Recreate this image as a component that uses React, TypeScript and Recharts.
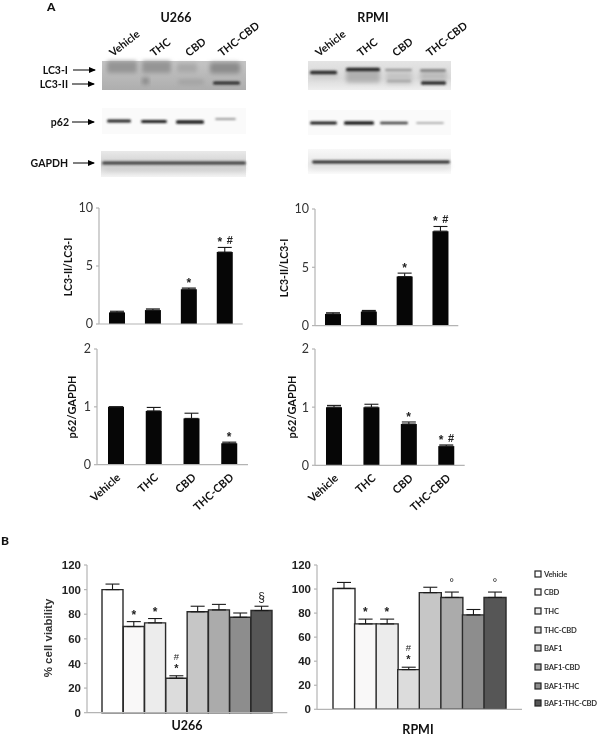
import React from 'react';
import { BarChart, Bar, XAxis, YAxis, ErrorBar, Cell, ReferenceDot } from 'recharts';

// ---------- data ----------
const westernCategories = ['Vehicle', 'THC', 'CBD', 'THC-CBD'];
const u266Lc3Values = [1.0, 1.2, 3.0, 6.2];
const u266Lc3Errors = [0.1, 0.1, 0.1, 0.4];
const u266Lc3Marks = ['', '', '*', '*~#'];
const rpmiLc3Values = [1.0, 1.2, 4.2, 8.1];
const rpmiLc3Errors = [0.1, 0.1, 0.3, 0.4];
const rpmiLc3Marks = ['', '', '*', '*~#'];
const u266P62Values = [1.0, 0.93, 0.8, 0.37];
const u266P62Errors = [0, 0.06, 0.09, 0.02];
const u266P62Marks = ['', '', '', '*'];
const rpmiP62Values = [1.0, 1.0, 0.71, 0.33];
const rpmiP62Errors = [0.03, 0.05, 0.035, 0.02];
const rpmiP62Marks = ['', '', '*', '*~#'];

const viabilityCategories = ['Vehicle', 'CBD', 'THC', 'THC-CBD', 'BAF1', 'BAF1-CBD', 'BAF1-THC', 'BAF1-THC-CBD'];
const u266Viability = [100, 70, 73, 28, 82, 83.5, 77.5, 83];
const u266ViabilityErrors = [4.5, 4, 3.5, 2, 4.5, 4.5, 3.5, 3.5];
const u266ViabilityMarks = ['', '*', '*', '#|*', '', '', '', '§'];
const rpmiViability = [100.5, 71, 71, 33, 97, 93, 78.5, 93];
const rpmiViabilityErrors = [5, 4, 4, 2, 4.5, 4.5, 4.5, 4.5];
const rpmiViabilityMarks = ['', '*', '*', '#|*', '', '°', '', '°'];
const viabilityFills = ['#ffffff', '#f9f8f8', '#ececec', '#dcdcdc', '#c6c6c6', '#ababab', '#8d8d8d', '#565656'];

const rows = (cats: string[], vals: number[], errs: number[], marks: string[]) =>
  cats.map((name, i) => ({ name, value: vals[i], err: [0, errs[i]], top: vals[i] + errs[i], mark: marks[i] }));

// ---------- fonts ----------
const CAL = 'Lato, "Open Sans", sans-serif';
const ARIAL = '"Liberation Sans", Arial, sans-serif';

// ---------- chart helper ----------
const PAD_L = 40;
const PAD_T = 15;
const PAD_R = 10;

type PanelProps = {
  x0: number; x1: number; yTop: number; yBot: number;
  data: ReturnType<typeof rows>;
  domainMax: number; ticks: number[];
  barSize?: number; xTicks?: boolean; padX?: [number, number];
  fills?: string[]; tickStyle: any; axisColor: string; errW: number; markFont: number; markLift: number;
};

function MarkShape(props: any) {
  const { cx, cy, text, font, lift } = props;
  const str = String(text);
  const common = { textAnchor: 'middle' as const, fontFamily: ARIAL, fontWeight: 700, fill: '#222' };
  if (str.includes('~')) {
    const [a, b] = str.split('~');
    return (
      <g>
        <text {...common} x={cx - 5} y={cy - lift} fontSize={font}>{a}</text>
        <text {...common} x={cx + 5} y={cy - lift - 2} fontSize={font - 1}>{b}</text>
      </g>
    );
  }
  if (str.includes('|')) {
    const [a, b] = str.split('|');
    return (
      <g>
        <text {...common} x={cx} y={cy - lift - 1} fontSize={font - 1}>{b}</text>
        <text {...common} x={cx} y={cy - lift - 13} fontSize={font - 2.5} fontWeight={400}>{a}</text>
      </g>
    );
  }
  const soft = str !== '*';
  return <text {...common} fontWeight={soft ? 400 : 700} x={cx} y={cy - lift - (soft ? 2 : 0)} fontSize={font}>{str}</text>;
}

function Panel(p: PanelProps) {
  const bottom = p.xTicks ? 60 : 10;
  const w = p.x1 - p.x0 + PAD_L + PAD_R;
  const h = p.yBot - p.yTop + PAD_T + bottom;
  return (
    <div style={{ position: 'absolute', left: p.x0 - PAD_L, top: p.yTop - PAD_T, width: w, height: h }}>
      <BarChart width={w} height={h} data={p.data} margin={{ top: PAD_T, right: PAD_R, bottom: 0, left: 0 }}
        barCategoryGap={p.fills ? 0 : undefined} barGap={0}>
        <XAxis dataKey="name" height={bottom} interval={0}
          padding={p.padX ? { left: p.padX[0], right: p.padX[1] } : undefined}
          stroke={p.axisColor} strokeWidth={1.2} tickLine={false}
          tick={p.xTicks ? { fontFamily: CAL, fontSize: 11, fontWeight: 700, fill: '#111' } : false}
          angle={p.xTicks ? -42 : 0} textAnchor={p.xTicks ? 'end' : 'middle'} tickMargin={2} />
        <YAxis width={PAD_L} domain={[0, p.domainMax]} ticks={p.ticks} interval={0}
          stroke={p.axisColor} strokeWidth={1.2} tickSize={3} tick={p.tickStyle} tickMargin={3} />
        <Bar dataKey="value" isAnimationActive={false} barSize={p.barSize}
          fill="#060606" stroke={p.fills ? '#2a2a2a' : 'none'} strokeWidth={p.fills ? 1.4 : 0}>
          {p.fills ? p.fills.map((f, i) => <Cell key={i} fill={f} />) : null}
          <ErrorBar dataKey="err" direction="y" width={p.errW} stroke="#1a1a1a" strokeWidth={1.1} isAnimationActive={false} />
        </Bar>
        {p.data.filter(d => d.mark).map(d => (
          <ReferenceDot key={d.name} x={d.name} y={d.top} r={0} ifOverflow="visible"
            shape={(s: any) => <MarkShape {...s} text={d.mark} font={p.markFont} lift={p.markLift} />} />
        ))}
      </BarChart>
    </div>
  );
}

const smallTick = { fontFamily: CAL, fontSize: 12.5, fill: '#333' };
const boldTick = { fontFamily: ARIAL, fontSize: 11.5, fontWeight: 700, fill: '#222' };

// ---------- gel picture: boxes and bands (a photograph in the reference, not chart data) ----------
type Box = [number, number, number, number, string];
type Band = [number, number, number, number, string];
const gelBoxes: Box[] = [
  [102, 61, 144, 29, 'url(#lcU)'],
  [102, 108, 144, 26, '#fafafa'],
  [101, 151, 145, 26, 'url(#gapU)'],
  [308, 61, 143, 29, 'url(#lcR)'],
  [308, 110, 143, 25, '#fafafa'],
  [308, 149, 143, 25, 'url(#gapR)'],
];
const softBands: Band[] = [
  [107, 137, 67, 12, '#959595'], [142, 171, 67, 12, '#959595'], [177, 197, 68, 9, '#a8a8a8'], [210, 240, 68, 11, '#8c8c8c'],
  [178, 204, 82, 5, '#a2a2a2'], [142, 149, 81, 7, '#8a8a8a'],
  [311, 338, 75, 7, '#cdcdcd'], [346, 380, 76, 13, '#b0b0b0'], [386, 412, 78, 12, '#c4c4c4'], [420, 447, 76, 10, '#bcbcbc'],
  [310, 450, 166, 6, '#e2e2e2'], [104, 245, 168, 6, '#d0d0d0'],
];
const sharpBands: Band[] = [
  [213, 240, 83, 3, '#262626'],
  [107, 131, 121, 3, '#222'], [141, 167, 121.5, 3, '#1c1c1c'], [176, 204, 122, 3.5, '#181818'], [215, 236, 119, 2, '#999'],
  [102, 246, 163, 3, '#3a3a3a'],
  [310, 337, 72.5, 3.5, '#2a2a2a'], [346, 380, 69.5, 3.5, '#262626'], [385, 412, 70, 2.5, '#999'], [420, 446, 70.5, 2.5, '#7a7a7a'],
  [387, 411, 81, 2, '#a5a5a5'], [421, 446, 83, 3.5, '#2c2c2c'],
  [310, 337, 123, 3, '#1f1f1f'], [344, 374, 123, 3.5, '#1a1a1a'], [380, 408, 123, 2.6, '#3d3d3d'], [416, 444, 123, 2, '#adadad'],
  [312, 450, 162, 2.8, '#2c2c2c'],
];

const arrows: [number, number, number][] = [[73, 95, 70], [72, 94, 84], [72, 94, 122], [73, 94, 163]];
const gelLabels: [string, number, number][] = [['LC3-I', 68, 74], ['LC3-II', 68, 88], ['p62', 69, 126], ['GAPDH', 68, 167]];
const laneLabelX = [113, 154, 189, 222, 319, 361, 396, 430];
const laneNames = [...westernCategories, ...westernCategories];
const legendY = [574, 592, 611, 630, 648, 667, 686, 703];

function Picture() {
  return (
    <svg width={600} height={738} style={{ position: 'absolute', left: 0, top: 0 }}>
      <defs>
        <filter id="b1" x="-20%" y="-80%" width="140%" height="260%"><feGaussianBlur stdDeviation="0.9" /></filter>
        <filter id="b2" x="-20%" y="-80%" width="140%" height="260%"><feGaussianBlur stdDeviation="2" /></filter>
        <linearGradient id="lcU" x1="0" y1="0" x2="0" y2="1"><stop offset="0" stopColor="#c4c4c4" /><stop offset="1" stopColor="#aeaeae" /></linearGradient>
        <linearGradient id="lcR" x1="0" y1="0" x2="0" y2="1"><stop offset="0" stopColor="#e4e4e4" /><stop offset="0.6" stopColor="#dadada" /><stop offset="1" stopColor="#eeeeee" /></linearGradient>
        <linearGradient id="gapU" x1="0" y1="0" x2="0" y2="1"><stop offset="0" stopColor="#e9e9e9" /><stop offset="0.55" stopColor="#d0d0d0" /><stop offset="1" stopColor="#f3f3f3" /></linearGradient>
        <linearGradient id="gapR" x1="0" y1="0" x2="0" y2="1"><stop offset="0" stopColor="#f8f8f8" /><stop offset="0.6" stopColor="#e8e8e8" /><stop offset="1" stopColor="#fafafa" /></linearGradient>
        <marker id="head" markerWidth="7" markerHeight="6" refX="6" refY="3" orient="auto"><path d="M0,0 L7,3 L0,6 Z" fill="#000" /></marker>
      </defs>
      {gelBoxes.map((b, i) => <rect key={i} x={b[0]} y={b[1]} width={b[2]} height={b[3]} fill={b[4]} />)}
      {softBands.map((b, i) => <rect key={i} x={b[0]} y={b[2] - b[3] / 2} width={b[1] - b[0]} height={b[3]} rx={2} fill={b[4]} filter="url(#b2)" />)}
      {sharpBands.map((b, i) => <rect key={i} x={b[0]} y={b[2] - b[3] / 2} width={b[1] - b[0]} height={b[3]} rx={1.5} fill={b[4]} filter="url(#b1)" />)}
      {arrows.map((a, i) => <line key={i} x1={a[0]} x2={a[1]} y1={a[2]} y2={a[2]} stroke="#000" strokeWidth={1} markerEnd="url(#head)" />)}
      <g fontFamily={CAL} fontWeight={700} fill="#111">
        {gelLabels.map(l => <text key={l[0]} x={l[1]} y={l[2]} textAnchor="end" fontSize={10.5}>{l[0]}</text>)}
        <text x={47} y={10.5} fontSize={12} fontWeight={900}>A</text>
        <text x={1} y={545} fontSize={12} fontWeight={900}>B</text>
        <text x={176} y={21.5} fontSize={12.5} textAnchor="middle">U266</text>
        <text x={373} y={21.5} fontSize={12.5} textAnchor="middle">RPMI</text>
        {laneNames.map((n, i) => (
          <text key={i} x={laneLabelX[i]} y={57} fontSize={10.8} transform={`rotate(-38 ${laneLabelX[i]} 57)`}>{n}</text>
        ))}
        <text transform="translate(72 267) rotate(-90)" fontSize={10.5} textAnchor="middle">LC3-II/LC3-I</text>
        <text transform="translate(76 407) rotate(-90)" fontSize={11} textAnchor="middle">p62/GAPDH</text>
        <text transform="translate(288 268) rotate(-90)" fontSize={10.5} textAnchor="middle">LC3-II/LC3-I</text>
        <text transform="translate(296 407) rotate(-90)" fontSize={11} textAnchor="middle">p62/GAPDH</text>
        <text x={187} y={730} fontSize={12.5} textAnchor="middle">U266</text>
        <text x={418} y={734} fontSize={12.5} textAnchor="middle">RPMI</text>
        {viabilityCategories.map((c, i) => (
          <g key={c}>
            <rect x={535} y={legendY[i] - 3} width={6} height={6} fill={viabilityFills[i]} stroke="#222" strokeWidth={1.2} />
            <text x={544} y={legendY[i] + 3} fontSize={7.6} letterSpacing={-0.2} fill="#333">{c}</text>
          </g>
        ))}
      </g>
      <text transform="translate(52 638) rotate(-90)" fontFamily={ARIAL} fontWeight={700} fontSize={11.5} fill="#333" textAnchor="middle">% cell viability</text>
    </svg>
  );
}

export default function App() {
  const common = { tickStyle: smallTick, axisColor: '#b4b4b4', errW: 7, markFont: 12, markLift: 1 };
  const viab = { tickStyle: boldTick, axisColor: '#b4b4b4', errW: 7, markFont: 12, markLift: 3, domainMax: 120, ticks: [0, 20, 40, 60, 80, 100, 120], fills: viabilityFills };
  return (
    <div style={{ position: 'absolute', left: 0, top: 0, width: 600, height: 738, background: '#fff', overflow: 'hidden', filter: 'blur(0.3px)' }}>
      <Picture />
      <Panel {...common} x0={99.3} x1={243} yTop={208} yBot={324} domainMax={10} ticks={[0, 5, 10]} barSize={16}
        data={rows(westernCategories, u266Lc3Values, u266Lc3Errors, u266Lc3Marks)} />
      <Panel {...common} x0={314.7} x1={458} yTop={208.7} yBot={325.3} domainMax={10} ticks={[0, 5, 10]} barSize={16}
        data={rows(westernCategories, rpmiLc3Values, rpmiLc3Errors, rpmiLc3Marks)} />
      <Panel {...common} x0={96.7} x1={247.7} yTop={349.3} yBot={465} domainMax={2} ticks={[0, 1, 2]} barSize={16} xTicks
        data={rows(westernCategories, u266P62Values, u266P62Errors, u266P62Marks)} />
      <Panel {...common} x0={315.3} x1={465} yTop={348.7} yBot={465} domainMax={2} ticks={[0, 1, 2]} barSize={16} xTicks
        data={rows(westernCategories, rpmiP62Values, rpmiP62Errors, rpmiP62Marks)} />
      <Panel {...viab} x0={86.7} x1={287} yTop={565} yBot={712.7} padX={[15, 15]}
        data={rows(viabilityCategories, u266Viability, u266ViabilityErrors, u266ViabilityMarks)} />
      <Panel {...viab} x0={316.7} x1={521.7} yTop={565} yBot={709.3} padX={[16, 16.4]}
        data={rows(viabilityCategories, rpmiViability, rpmiViabilityErrors, rpmiViabilityMarks)} />
    </div>
  );
}
